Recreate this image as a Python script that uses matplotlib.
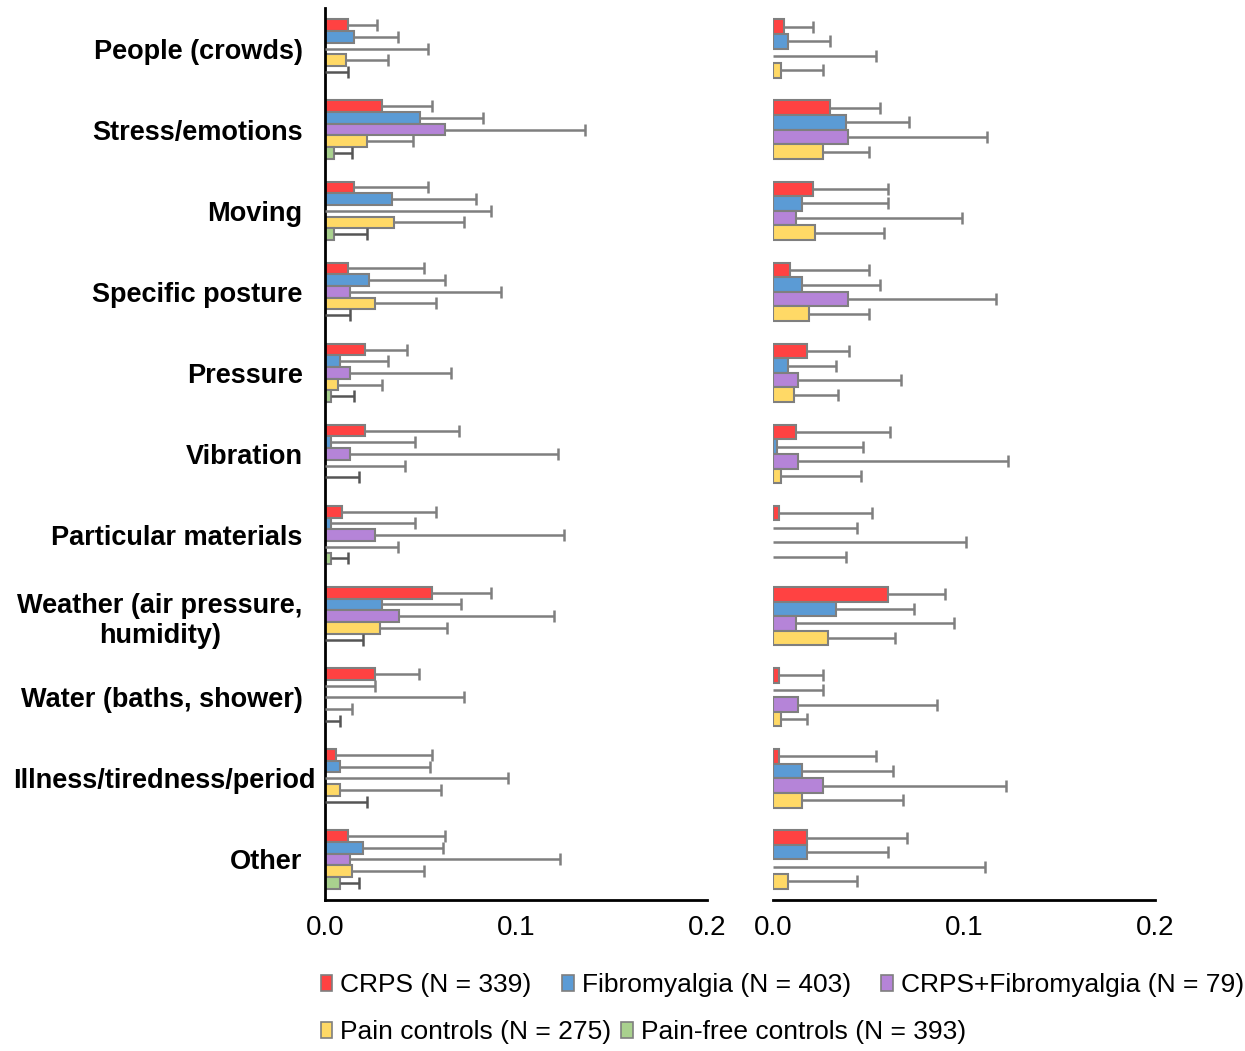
import numpy as np
import matplotlib
matplotlib.use('Agg')
import matplotlib.pyplot as plt
from matplotlib.patches import Patch
from matplotlib.transforms import ScaledTranslation

plt.rcParams['font.family'] = ['Liberation Sans', 'DejaVu Sans']

# categories (top to bottom)
categories = ['People (crowds)', 'Stress/emotions', 'Moving', 'Specific posture',
              'Pressure', 'Vibration', 'Particular materials',
              'Weather (air pressure,\nhumidity)', 'Water (baths, shower)',
              'Illness/tiredness/period', 'Other']

series = ['CRPS (N = 339)', 'Fibromyalgia (N = 403)', 'CRPS+Fibromyalgia (N = 79)',
          'Pain controls (N = 275)', 'Pain-free controls (N = 393)']
colors = ['#FF4242', '#5B9BD5', '#B584D8', '#FFD966', '#A9D18E']
err_colors = ['#7F7F7F', '#7F7F7F', '#7F7F7F', '#7F7F7F', '#555555']

# left panel: proportions and upper CI limits
left_crps = [0.012, 0.030, 0.015, 0.012, 0.021, 0.021, 0.009, 0.056, 0.026, 0.006, 0.012]
left_fm = [0.015, 0.050, 0.035, 0.023, 0.008, 0.003, 0.003, 0.030, 0.0, 0.008, 0.020]
left_both = [0.0, 0.063, 0.0, 0.013, 0.013, 0.013, 0.026, 0.039, 0.0, 0.0, 0.013]
left_pain = [0.011, 0.022, 0.036, 0.026, 0.007, 0.0, 0.0, 0.029, 0.0, 0.008, 0.014]
left_free = [0.0, 0.005, 0.005, 0.0, 0.003, 0.0, 0.003, 0.0, 0.0, 0.0, 0.008]

left_crps_hi = [0.027, 0.056, 0.054, 0.052, 0.043, 0.070, 0.058, 0.087, 0.049, 0.056, 0.063]
left_fm_hi = [0.038, 0.083, 0.079, 0.063, 0.033, 0.047, 0.047, 0.071, 0.026, 0.055, 0.062]
left_both_hi = [0.054, 0.136, 0.087, 0.092, 0.066, 0.122, 0.125, 0.120, 0.073, 0.096, 0.123]
left_pain_hi = [0.033, 0.046, 0.073, 0.058, 0.030, 0.042, 0.038, 0.064, 0.014, 0.061, 0.052]
left_free_hi = [0.012, 0.014, 0.022, 0.013, 0.015, 0.018, 0.012, 0.020, 0.008, 0.022, 0.018]

# right panel (no pain-free controls)
right_crps = [0.006, 0.030, 0.021, 0.009, 0.018, 0.012, 0.003, 0.060, 0.003, 0.003, 0.018]
right_fm = [0.008, 0.038, 0.015, 0.015, 0.008, 0.002, 0.0, 0.033, 0.0, 0.015, 0.018]
right_both = [0.0, 0.039, 0.012, 0.039, 0.013, 0.013, 0.0, 0.012, 0.013, 0.026, 0.0]
right_pain = [0.004, 0.026, 0.022, 0.019, 0.011, 0.004, 0.0, 0.029, 0.004, 0.015, 0.008]

right_crps_hi = [0.021, 0.056, 0.060, 0.050, 0.040, 0.061, 0.052, 0.090, 0.026, 0.054, 0.070]
right_fm_hi = [0.030, 0.071, 0.060, 0.056, 0.033, 0.047, 0.044, 0.074, 0.026, 0.063, 0.060]
right_both_hi = [0.054, 0.112, 0.099, 0.117, 0.067, 0.123, 0.101, 0.095, 0.086, 0.122, 0.111]
right_pain_hi = [0.026, 0.050, 0.058, 0.050, 0.034, 0.046, 0.038, 0.064, 0.018, 0.068, 0.044]

left_vals = [left_crps, left_fm, left_both, left_pain, left_free]
left_his = [left_crps_hi, left_fm_hi, left_both_hi, left_pain_hi, left_free_hi]
right_vals = [right_crps, right_fm, right_both, right_pain]
right_his = [right_crps_hi, right_fm_hi, right_both_hi, right_pain_hi]


def draw_panel(ax, vals, his):
    n = len(vals)
    h = 0.72 / n
    y = np.arange(len(categories))
    for j, (v, hi) in enumerate(zip(vals, his)):
        v = np.array(v)
        hi = np.array(hi)
        pos = y + (j - (n - 1) / 2) * h
        ax.barh(pos, np.where(v > 0, v, np.nan), height=h, color=colors[j],
                edgecolor='#7F7F7F', linewidth=1.5, zorder=2)
        # one-sided error bar, cap only at the upper end
        ax.hlines(pos, v, hi, color=err_colors[j], linewidth=1.8, zorder=3)
        ax.plot(hi, pos, linestyle='none', marker='|', markersize=9,
                markeredgewidth=1.8, color=err_colors[j], zorder=3)
    ax.set_ylim(len(categories) - 0.5, -0.5)
    ax.set_xlim(0, 0.2)
    ax.set_xticks([0, 0.1, 0.2])
    ax.set_xticklabels(['0.0', '0.1', '0.2'], fontsize=20)
    ax.tick_params(axis='both', length=0)
    ax.tick_params(axis='x', pad=11)
    ax.spines['top'].set_visible(False)
    ax.spines['right'].set_visible(False)
    ax.spines['bottom'].set_linewidth(2)
    ax.spines['bottom'].set_color('black')
    ax.spines['left'].set_linewidth(2)
    ax.spines['left'].set_color('black')


fig = plt.figure(figsize=(12.45, 10.51), dpi=100)
ax1 = fig.add_axes([0.261, 0.1437, 0.3068, 0.8487])
ax2 = fig.add_axes([0.6209, 0.1437, 0.3068, 0.8487])

draw_panel(ax1, left_vals, left_his)
draw_panel(ax2, right_vals, right_his)

ax1.set_yticks(np.arange(len(categories)))
ax1.set_yticklabels(categories, fontsize=19.5, fontweight='bold', multialignment='center')
ax1.tick_params(axis='y', pad=16)
# the long label sits a bit further right
lab = ax1.get_yticklabels()[9]
lab.set_transform(lab.get_transform() + ScaledTranslation(0.13, 0, fig.dpi_scale_trans))

ax2.set_yticks([])
ax2.spines['left'].set_visible(False)

handles = [Patch(facecolor=c, edgecolor='#7F7F7F', linewidth=1.2) for c in colors]
kw = dict(frameon=False, fontsize=19, handlelength=0.45, handleheight=0.55,
          handletextpad=0.3, borderpad=0, borderaxespad=0, loc='center left')
fig.legend(handles[:3], series[:3], ncol=3, columnspacing=1.15,
           bbox_to_anchor=(0.2575, 0.0628), **kw)
fig.legend(handles[3:], series[3:], ncol=2, columnspacing=0.35,
           bbox_to_anchor=(0.2575, 0.018), **kw)

fig.savefig('out.png', dpi=100)
